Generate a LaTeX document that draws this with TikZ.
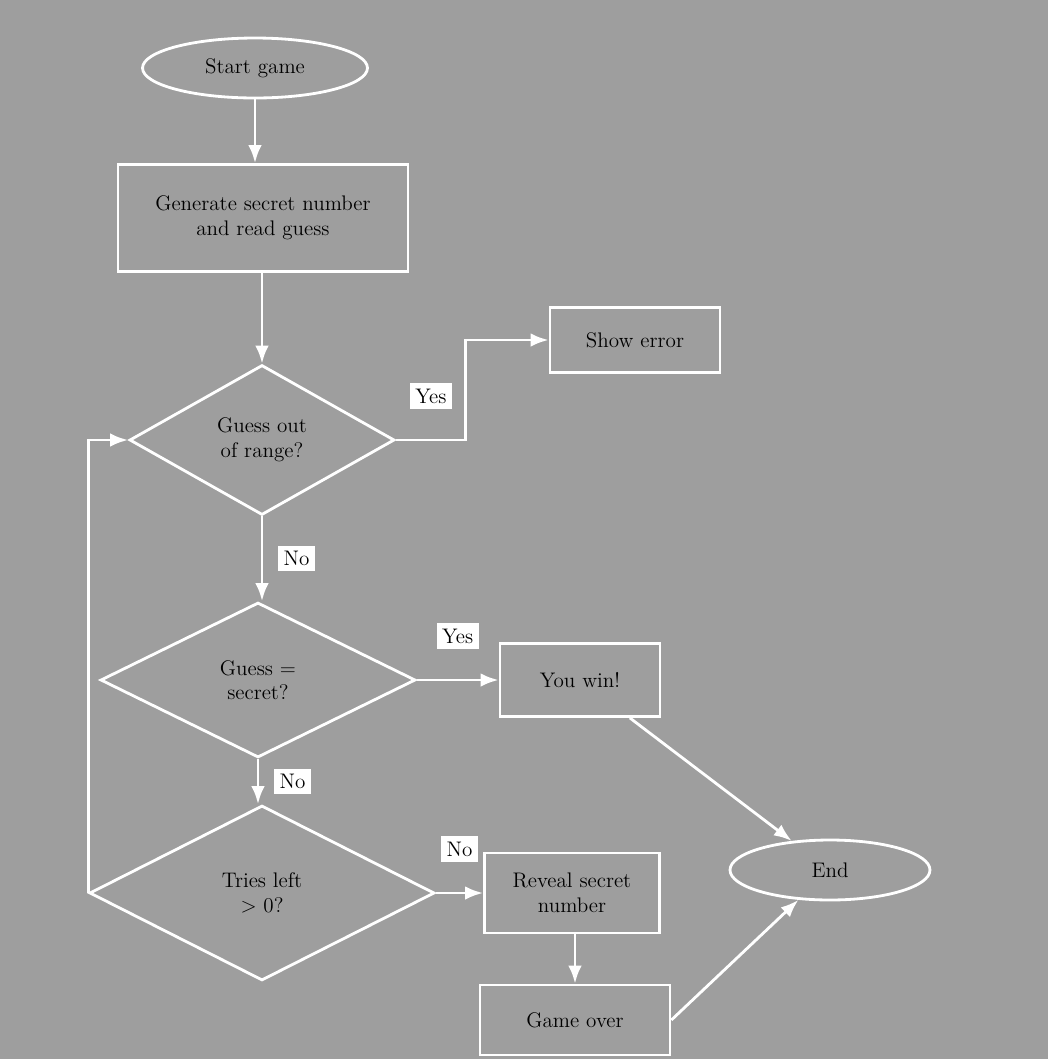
\documentclass[tikz,border=0pt]{standalone}
\usepackage{amsmath,amssymb}
\usepackage{xcolor}
\usetikzlibrary{arrows.meta,positioning,shapes.geometric}

\definecolor{bggray}{HTML}{9E9E9E}

\begin{document}
\begin{tikzpicture}[
  x=0.02cm, y=-0.02cm,
  terminal/.style={draw=white, ellipse, line width=1.6pt, align=center, font=\large, minimum width=4.3cm, minimum height=1.2cm},
  proc/.style={draw=white, line width=1.6pt, align=center, font=\large, minimum height=1.3cm, minimum width=3.4cm},
  decision/.style={draw=white, diamond, line width=1.6pt, align=center, font=\large, inner sep=0pt},
  lbl/.style={fill=white, font=\large, inner sep=3pt},
  arr/.style={-Latex, draw=white, line width=1.6pt}
]
\fill[bggray] (0,0) rectangle (1048,1059);
\useasboundingbox (0,0) rectangle (1048,1059);

\node[terminal, minimum width=4.5cm] (start) at (255,68) {Start game};
\node[proc, minimum width=5.8cm, minimum height=2.14cm] (p1) at (263,218) {Generate secret number\\and read guess};
\node[decision, minimum width=5.3cm, minimum height=3cm] (d1) at (262,440) {Guess out\\of range?};
\node[proc] (p2) at (635,340) {Show error};
\node[decision, minimum width=6.3cm, minimum height=3.1cm] (d2) at (258,680) {Guess =\\secret?};
\node[proc, minimum width=3.2cm, minimum height=1.46cm] (p3) at (580,680) {You win!};
\node[decision, minimum width=6.9cm, minimum height=3.5cm] (d3) at (262,893) {Tries left\\$>$ 0?};
\node[proc, minimum width=3.5cm, minimum height=1.6cm] (p4) at (572,893) {Reveal secret\\number};
\node[proc, minimum width=3.8cm, minimum height=1.4cm] (p5) at (575,1020) {Game over};
\node[terminal, minimum width=4cm] (stop) at (830,870) {End};

\draw[arr] (start.south) -- (start.south |- p1.north);
\draw[arr] (p1.south -| d1.north) -- (d1.north);
\draw[arr] (d1.east) -- ++(70,0) node[lbl, midway, above=6mm] {Yes} |- (p2.west);
\draw[arr] (d1.south) -- node[lbl, right=3mm] {No} (d1.south |- d2.north);
\draw[arr] (d2) -- node[lbl, above=6mm] {Yes} (p3);
\draw[arr] (d2.south) -- node[lbl, right=3mm] {No} (d2.south |- d3.north);
\draw[arr] (d3) -- node[lbl, above=6mm] {No} (p4);
\draw[arr] (d3.west) |- (d1.west);
\draw[arr] (p4.south -| p5.north) -- (p5.north);
\draw[arr] (p3) -- (stop);
\draw[arr] (p5.east) -- (stop);
\end{tikzpicture}
\end{document}
